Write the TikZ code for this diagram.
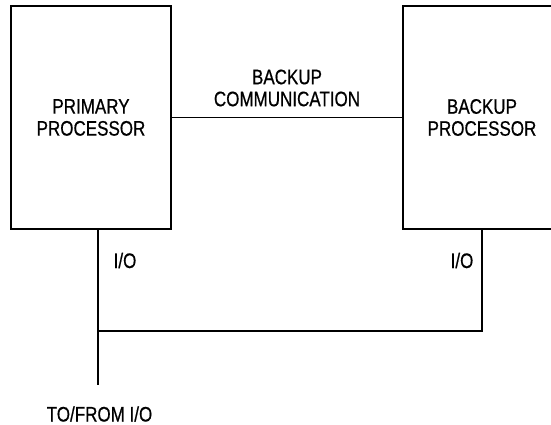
\documentclass[tikz,border=0pt]{standalone}
\usepackage{fontspec}
\newfontfamily\diagfont[FakeStretch=0.81,FakeBold=0.6]{Liberation Sans}
\usetikzlibrary{positioning, calc}

\begin{document}
\begin{tikzpicture}[
    x=1pt, y=-1pt,
    % Processor style
    procbox/.style={
        rectangle,
        draw=black,
        line width=2pt,
        minimum height=223pt,
        font=\diagfont\fontsize{21}{22}\selectfont,
        align=center
    },
    % Connector style
    wire/.style={
        line width=1.4pt,
        black
    },
    lbl/.style={
        font=\diagfont\fontsize{21}{22}\selectfont,
        align=center,
        inner sep=0pt
    }
]
\useasboundingbox (0,0) rectangle (551,425);

% === Processors ===
\node[procbox, minimum width=160pt] (prim) at (91,117.5) {PRIMARY\\PROCESSOR};
\node[procbox, minimum width=158pt] (back) at (482,117.5) {BACKUP\\PROCESSOR};

% === Backup link ===
\draw[wire] (prim.east) -- (back.west)
    node[lbl, midway, yshift=29.5pt] (comm) {BACKUP\\COMMUNICATION};

% === I/O bus ===
\coordinate (bus) at (98,331);
\coordinate (tap) at (98,385);
\coordinate (bio) at (482,331);

\draw[wire] (prim.south -| tap) -- (tap);
\draw[wire] (back.south -| bio) -- (bio) -- (bus);

\node[lbl] (pio) at (125,260.5) {I/O};
\node[lbl] (bpio) at (462,260.5) {I/O};
\node[lbl] (ext) at (99.5,414) {TO/FROM I/O};

\end{tikzpicture}
\end{document}
